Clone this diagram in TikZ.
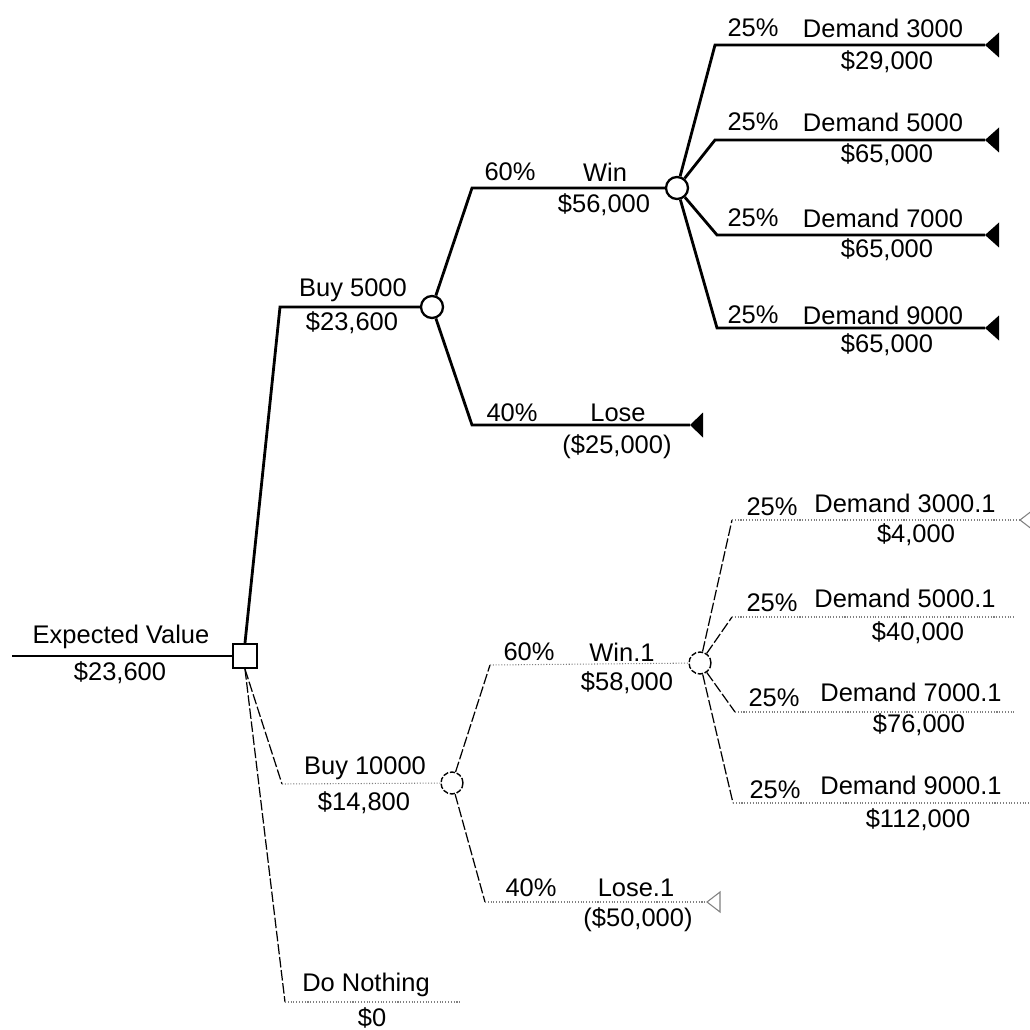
\documentclass[tikz,border=0pt]{standalone}
\usepackage{fontspec}
\setmainfont{Liberation Sans}
\tikzset{
  lbl/.style={font=\fontsize{14.5}{16}\selectfont, inner sep=0pt},
  dec/.style={draw, line width=1.3pt, minimum size=0.48cm, inner sep=0pt},
  chance/.style={draw, circle, line width=1.3pt, minimum size=0.44cm, inner sep=0pt},
  chanceoff/.style={chance, line width=0.8pt, dash pattern=on 3pt off 1pt},
  best/.style={line width=1.6pt},
  slant/.style={line width=0.7pt, dash pattern=on 6pt off 1.5pt},
  flat/.style={gray, line width=0.6pt, densely dotted},
}
\begin{document}
\begin{tikzpicture}[x=0.02cm, y=-0.02cm]
    \useasboundingbox (0,0) rectangle (1030,1030);
    \node[dec] (root) at (245,656) {};
    \coordinate (start) at (12,656);
    \node[lbl] (ev) at (121,637) {Expected Value};
    \node[lbl] (evv) at (120,673) {\$23,600};
    \draw[best] (start) -- (root);

    \coordinate (b5) at (280,307);
    \node[chance] (c5) at (432,307) {};
    \node[lbl] (b5n) at (353,290) {Buy 5000};
    \node[lbl] (b5v) at (352,323) {\$23,600};
    \draw[best] (root.north) -- (b5) -- (c5);

    \coordinate (w) at (472,188);
    \node[chance] (cw) at (677,188) {};
    \node[lbl] (wp) at (510,172) {60\%};
    \node[lbl] (wn) at (605,172) {Win};
    \node[lbl] (wv) at (604,205) {\$56,000};
    \draw[best] (c5) -- (w) -- (cw);

    \coordinate (l) at (472,425);
    \coordinate (lt) at (690,425);
    \node[lbl] (lp) at (512,413) {40\%};
    \node[lbl] (ln) at (618,413) {Lose};
    \node[lbl] (lv) at (617,447) {(\$25,000)};
    \draw[best] (c5) -- (l) -- (lt);
    \fill (lt) -- ++(13,-12.5) -- ++(0,25) -- cycle;

    \coordinate (d3) at (715,45);
    \coordinate (d3t) at (985,45);
    \node[lbl] (d3p) at (753,28) {25\%};
    \node[lbl] (d3n) at (883,28) {Demand 3000};
    \node[lbl] (d3v) at (887,62) {\$29,000};
    \draw[best] (cw) -- (d3) -- (d3t);
    \fill (d3t) -- ++(14,-12.5) -- ++(0,25) -- cycle;

    \coordinate (d5) at (715,140);
    \coordinate (d5t) at (985,140);
    \node[lbl] (d5p) at (753,122) {25\%};
    \node[lbl] (d5n) at (883,122) {Demand 5000};
    \node[lbl] (d5v) at (887,155) {\$65,000};
    \draw[best] (cw) -- (d5) -- (d5t);
    \fill (d5t) -- ++(14,-12.5) -- ++(0,25) -- cycle;

    \coordinate (d7) at (717,235);
    \coordinate (d7t) at (985,235);
    \node[lbl] (d7p) at (753,218) {25\%};
    \node[lbl] (d7n) at (883,218) {Demand 7000};
    \node[lbl] (d7v) at (887,250) {\$65,000};
    \draw[best] (cw) -- (d7) -- (d7t);
    \fill (d7t) -- ++(14,-12.5) -- ++(0,25) -- cycle;

    \coordinate (d9) at (717,328);
    \coordinate (d9t) at (985,328);
    \node[lbl] (d9p) at (753,315) {25\%};
    \node[lbl] (d9n) at (883,315) {Demand 9000};
    \node[lbl] (d9v) at (887,345) {\$65,000};
    \draw[best] (cw) -- (d9) -- (d9t);
    \fill (d9t) -- ++(14,-12.5) -- ++(0,25) -- cycle;

    \coordinate (b10) at (282,784);
    \node[chanceoff] (c10) at (452,783) {};
    \node[lbl] (b10n) at (365,768) {Buy 10000};
    \node[lbl] (b10v) at (364,803) {\$14,800};
    \draw[slant] (root.south) -- (b10);
    \draw[flat] (b10) -- (c10);

    \coordinate (dn) at (285,1002);
    \coordinate (dnt) at (462,1002);
    \node[lbl] (dnn) at (366,985) {Do Nothing};
    \node[lbl] (dnv) at (372,1018) {\$0};
    \draw[slant] (root.south) -- (dn);
    \draw[flat] (dn) -- (dnt);

    \coordinate (w1) at (490,665);
    \node[chanceoff] (cw1) at (700,663) {};
    \node[lbl] (w1p) at (529,652) {60\%};
    \node[lbl] (w1n) at (622,652) {Win.1};
    \node[lbl] (w1v) at (627,683) {\$58,000};
    \draw[slant] (c10) -- (w1);
    \draw[flat] (w1) -- (cw1);

    \coordinate (l1) at (485,902);
    \coordinate (l1t) at (707,902);
    \node[lbl] (l1p) at (531,888) {40\%};
    \node[lbl] (l1n) at (636,888) {Lose.1};
    \node[lbl] (l1v) at (638,920) {(\$50,000)};
    \draw[slant] (c10) -- (l1);
    \draw[flat] (l1) -- (l1t);
    \draw[gray, line width=0.6pt] (l1t) -- ++(13,-10) -- ++(0,20) -- cycle;

    \coordinate (e3) at (732,520);
    \coordinate (e3t) at (1020,520);
    \node[lbl] (e3p) at (772,507) {25\%};
    \node[lbl] (e3n) at (905,503) {Demand 3000.1};
    \node[lbl] (e3v) at (916,535) {\$4,000};
    \draw[slant] (cw1) -- (e3);
    \draw[flat] (e3) -- (e3t);
    \draw[gray, line width=0.6pt] (e3t) -- ++(13,-10) -- ++(0,20) -- cycle;

    \coordinate (e5) at (732,617);
    \coordinate (e5t) at (1015,617);
    \node[lbl] (e5p) at (772,603) {25\%};
    \node[lbl] (e5n) at (905,598) {Demand 5000.1};
    \node[lbl] (e5v) at (918,633) {\$40,000};
    \draw[slant] (cw1) -- (e5);
    \draw[flat] (e5) -- (e5t);

    \coordinate (e7) at (735,712);
    \coordinate (e7t) at (1015,712);
    \node[lbl] (e7p) at (774,698) {25\%};
    \node[lbl] (e7n) at (911,692) {Demand 7000.1};
    \node[lbl] (e7v) at (919,725) {\$76,000};
    \draw[slant] (cw1) -- (e7);
    \draw[flat] (e7) -- (e7t);

    \coordinate (e9) at (733,803);
    \coordinate (e9t) at (1030,803);
    \node[lbl] (e9p) at (775,790) {25\%};
    \node[lbl] (e9n) at (911,785) {Demand 9000.1};
    \node[lbl] (e9v) at (918,820) {\$112,000};
    \draw[slant] (cw1) -- (e9);
    \draw[flat] (e9) -- (e9t);
\end{tikzpicture}
\end{document}
